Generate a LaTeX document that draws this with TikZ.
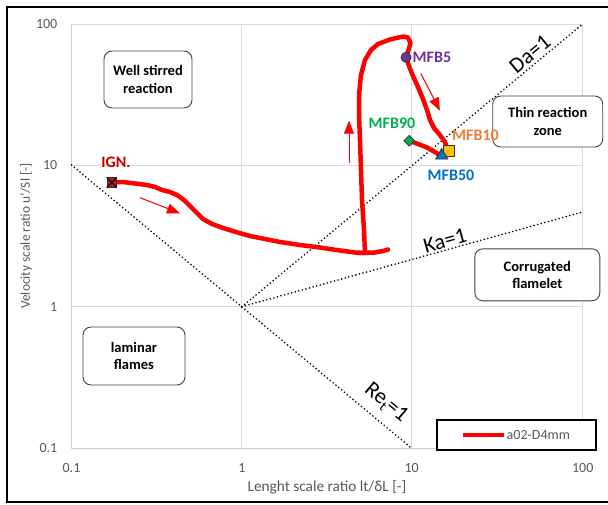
\documentclass[tikz,border=0pt]{standalone}
\usepackage{fontspec}
\setmainfont{Carlito}
\usetikzlibrary{arrows.meta,shapes.geometric}
\definecolor{gridc}{HTML}{D9D9D9}
\definecolor{axisc}{HTML}{D0D0D0}
\definecolor{tickc}{HTML}{595959}
\definecolor{ignc}{HTML}{C00000}
\definecolor{ignfill}{HTML}{B01E1E}
\definecolor{mfbpurple}{HTML}{7030A0}
\definecolor{mfbgreen}{HTML}{00B050}
\definecolor{mfborange}{HTML}{ED7D31}
\definecolor{mfbyellow}{HTML}{FFC000}
\definecolor{mfbblue}{HTML}{0070C0}
\definecolor{boxc}{HTML}{404040}
\tikzset{
  gridline/.style={draw=gridc, line width=1pt},
  dotline/.style={draw=black, line width=1.8pt, line cap=round, dash pattern=on 0pt off 3.7pt},
  regime/.style={draw=boxc, rounded corners=8pt, fill=white, line width=0.9pt, align=center,
    font=\fontsize{14.5}{17.5}\selectfont\bfseries, inner sep=0pt},
  flow/.style={draw=red, line width=4.5pt, line join=round, line cap=round},
  dirarrow/.style={draw=red, fill=red, line width=1pt, -{Triangle[length=13pt,width=10pt]}},
  ticklbl/.style={text=tickc, font=\fontsize{14}{16}\selectfont, inner sep=0pt},
  axtitle/.style={text=tickc, inner sep=0pt},
  mlabel/.style={font=\fontsize{16}{18}\selectfont\bfseries, inner sep=0pt},
  linelbl/.style={font=\fontsize{22}{24}\selectfont, inner sep=0pt},
  marker/.style={draw=black!80, line width=0.8pt, inner sep=0pt}
}
\begin{document}
\begin{tikzpicture}[x=1pt,y=-1pt]
\useasboundingbox (0,0) rectangle (608,504);
\fill[white] (0,0) rectangle (608,504);
% outer frame
\draw[line width=2.5pt] (612,7) -- (7,7) -- (7,502) -- (612,502);
% grid
\foreach \gx in {241.8,411.7,582.7} \draw[gridline] (\gx,24) -- (\gx,448.3);
\foreach \gy in {24,165,306.7} \draw[gridline] (71.5,\gy) -- (582.7,\gy);
\draw[draw=axisc, line width=1pt] (71.5,24) -- (71.5,448.3) -- (582.7,448.3);
% tick labels
\node[ticklbl, anchor=east] (y100) at (57.5,24) {100};
\node[ticklbl, anchor=east] (y10) at (57.5,165) {10};
\node[ticklbl, anchor=east] (y1) at (57.5,306.7) {1};
\node[ticklbl, anchor=east] (y01) at (57.5,448.3) {0.1};
\node[ticklbl] (x01) at (71.5,468) {0.1};
\node[ticklbl] (x1) at (241.8,468) {1};
\node[ticklbl] (x10) at (411.7,468) {10};
\node[ticklbl] (x100) at (582.7,468) {100};
\node[axtitle, font=\fontsize{15.3}{17}\selectfont] (xtitle) at (327,487) {Lenght scale ratio lt/δL [-]};
\node[axtitle, font=\fontsize{13.5}{15}\selectfont, rotate=90] (ytitle) at (26,236) {Velocity scale ratio u'/Sl [-]};
% regime lines
\coordinate (o1) at (241.8,306.7);
\coordinate (re0) at (71.5,165);
\coordinate (re1) at (411.7,448.3);
\coordinate (da1) at (582.7,24);
\coordinate (ka1) at (582.7,212);
\draw[dotline] (re0) -- (re1);
\draw[dotline] (o1) -- (da1);
\draw[dotline] (o1) -- (ka1);
\node[linelbl, rotate=39.7] (dalbl) at (530,54) {Da=1};
\node[linelbl, rotate=15.5] (kalbl) at (445,241) {Ka=1};
\node[linelbl, rotate=-39.7] (relbl) at (386,403) {Re\raisebox{-0.35ex}{\fontsize{14}{16}\selectfont t}=1};
% regime boxes
\node[regime, minimum width=88pt, minimum height=57pt] (wsr) at (148,79.5) {Well stirred\\reaction};
\node[regime, minimum width=102pt, minimum height=58pt] (lam) at (134,356) {laminar\\flames};
\node[regime, minimum width=110pt, minimum height=51pt] (trz) at (547.7,121.5) {Thin reaction\\zone};
\node[regime, minimum width=125pt, minimum height=52pt] (cf) at (537.3,274.8) {Corrugated\\flamelet};
% trajectory
\draw[flow] (111.7,182.5) -- (123,182) -- (135,183.5) -- (147,185) -- (155,187) -- (162,190) -- (170,192)
  -- (177,195) -- (184,200) -- (190,206) -- (197,213) -- (203,219) -- (212,224) -- (223,228)
  -- (236,232) -- (250,236) -- (265,239) -- (280,242) -- (300,245) -- (320,247.5) -- (340,250.5)
  -- (355,252.5) -- (365,253) -- (364,230) -- (362,200) -- (361,170) -- (360,140) -- (359,115)
  -- (359,95) -- (361,75) -- (365,60) -- (371,50) -- (378,44) -- (390,39.5) -- (403,36.5)
  -- (408,37.5) -- (410.5,43) -- (408.5,50) -- (406,57.3) -- (409,66) -- (413,76) -- (418,87)
  -- (423,99) -- (427,110) -- (430,120) -- (434,128) -- (440,135) -- (445,142) -- (447,148) -- (442,156.5)
  -- (434,151.5) -- (427,147.5) -- (418,144) -- (409.3,140.7);
\draw[flow] (360,253) -- (375,252.5) -- (383,251) -- (388,249.5);
% direction arrows
\coordinate (a1s) at (140,197.7); \coordinate (a1e) at (180,213.3);
\coordinate (a2s) at (349,163); \coordinate (a2e) at (349,120.7);
\coordinate (a3s) at (420.7,73.3); \coordinate (a3e) at (440,110.7);
\draw[dirarrow] (a1s) -- (a1e);
\draw[dirarrow] (a2s) -- (a2e);
\draw[dirarrow] (a3s) -- (a3e);
% markers
\node[marker, rectangle, fill=ignfill, minimum size=9.5pt] (ign) at (111.7,182.5) {};
\draw[black, line width=0.8pt] (ign.north west) -- (ign.south east) (ign.north east) -- (ign.south west);
\node[marker, circle, fill=mfbpurple, minimum size=10pt] (mfb5) at (406,57.3) {};
\node[marker, diamond, fill=mfbgreen, minimum size=11pt] (mfb90) at (409.3,140.7) {};
\node[marker, rectangle, fill=mfbyellow, minimum size=11pt] (mfb10) at (449,150.5) {};
\node[marker, regular polygon, regular polygon sides=3, fill=mfbblue, minimum size=14pt] (mfb50) at (441.7,155.5) {};
% marker labels
\node[mlabel, text=ignc] (ignlbl) at (116,162) {IGN.};
\node[mlabel, text=mfbpurple, anchor=west] (mfb5lbl) at (412.5,57.5) {MFB5};
\node[mlabel, text=mfbgreen] (mfb90lbl) at (392,123.3) {MFB90};
\node[mlabel, text=mfborange] (mfb10lbl) at (475.5,135) {MFB10};
\node[mlabel, text=mfbblue] (mfb50lbl) at (451,175) {MFB50};
% legend
\node[draw=black, line width=1.2pt, fill=white, minimum width=159pt, minimum height=30pt, inner sep=0pt] (legend) at (516.5,435) {};
\coordinate (lg0) at (463,435); \coordinate (lg1) at (504,435);
\draw[flow, line cap=butt] (lg0) -- (lg1);
\node[ticklbl, anchor=west] (legtxt) at (506.5,435.5) {a02-D4mm};
\end{tikzpicture}
\end{document}
